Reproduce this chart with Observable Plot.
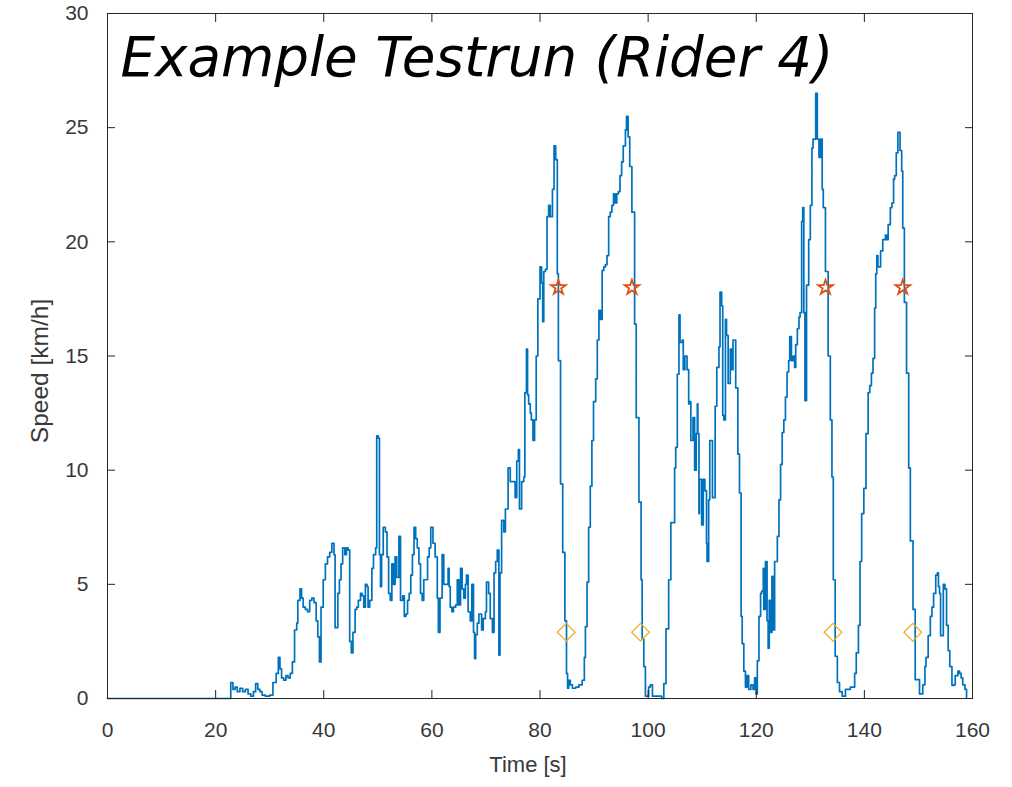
<!DOCTYPE html>
<html><head><meta charset="utf-8">
<script src="https://cdn.jsdelivr.net/npm/d3@7"></script>
<script src="https://cdn.jsdelivr.net/npm/@observablehq/plot@0.6"></script>
<style>body{margin:0;background:#fff} #chart{width:1012px;height:787px}</style>
</head><body><div id="chart"></div>
<script>
const time = [0,22.8,23.2,23.6,24.0,24.5,25.0,25.5,26.0,26.5,27.0,27.4,27.8,28.2,28.6,29.2,30.0,30.6,31.2,31.6,31.9,32.2,32.6,33.0,33.4,33.8,34.2,34.6,35.0,35.2,35.6,35.9,36.2,36.6,37.0,37.4,37.8,38.2,38.6,38.9,39.2,39.5,39.9,40.3,40.7,41.1,41.5,41.9,42.1,42.6,42.9,43.2,43.5,43.9,44.2,44.5,44.8,45.1,45.4,45.8,46.1,46.4,46.8,47.1,47.4,47.7,48.0,48.2,48.5,48.9,49.2,49.6,49.8,50.1,50.3,50.5,50.7,51.0,51.4,51.7,52.0,52.3,52.6,52.9,53.2,53.5,53.9,54.2,54.6,54.9,55.2,55.5,55.8,56.1,56.4,56.7,57.0,57.3,57.6,57.9,58.2,58.5,58.9,59.2,59.5,59.8,60.2,60.6,61.0,61.2,61.5,61.9,62.2,62.5,63.0,63.2,63.4,63.7,64.0,64.4,64.7,65.0,65.3,65.6,65.9,66.2,66.4,66.7,67.1,67.4,67.7,67.9,68.1,68.4,68.7,69.2,69.5,69.9,70.1,70.5,70.8,71.2,71.5,71.8,72.1,72.4,72.6,72.9,73.3,73.6,74.1,74.5,75.1,75.4,75.7,76.0,76.2,76.6,77.0,77.2,77.5,77.7,77.9,78.2,78.4,78.7,79.0,79.3,79.6,80.0,80.3,80.5,80.7,81.0,81.3,81.6,81.9,82.3,82.6,82.9,83.2,83.4,83.8,84.2,84.6,84.9,85.1,85.3,85.6,86.0,86.6,87.2,87.8,88.2,88.4,88.7,89.0,89.3,89.6,89.9,90.3,90.6,90.9,91.2,91.5,91.8,92.1,92.4,92.7,93.0,93.3,93.6,93.9,94.2,94.5,94.8,95.1,95.4,95.8,96.0,96.3,96.6,97.0,97.5,97.8,98.3,98.7,98.9,99.2,99.5,100.1,100.4,100.8,101.4,102.0,102.3,102.5,102.9,103.3,103.8,104.2,104.9,105.1,105.4,105.7,105.9,106.3,106.5,106.8,107.2,107.5,107.7,107.9,108.3,108.6,108.9,109.1,109.2,109.4,109.5,109.9,110.2,110.5,110.8,110.9,111.2,111.4,111.9,112.1,112.4,112.7,113.1,113.3,113.6,113.8,114.0,114.3,114.5,114.8,115.2,115.5,115.7,116.2,116.6,116.9,117.2,117.4,117.7,118.0,118.3,118.6,119.0,119.4,119.7,120.0,120.2,120.5,120.8,121.0,121.3,121.4,121.7,122.0,122.2,122.4,122.6,122.9,123.1,123.4,123.9,124.2,124.5,124.8,125.1,125.4,125.7,126.0,126.2,126.5,126.8,127.1,127.3,127.6,127.9,128.1,128.4,128.6,128.8,129.0,129.3,129.7,130.0,130.3,130.5,131.0,131.1,131.3,131.6,131.9,132.2,132.4,132.8,133.3,133.7,134.0,134.25,134.6,135.0,135.4,135.9,136.5,137.4,137.8,138.2,138.5,138.9,139.2,139.5,139.9,140.3,140.7,141.0,141.3,141.6,141.9,142.1,142.3,142.5,143.0,143.4,143.9,144.1,144.4,144.8,145.1,145.4,145.6,145.9,146.2,146.6,146.9,147.1,147.4,147.8,148.2,148.5,149.0,149.4,150.2,150.8,151.2,151.4,151.8,152.2,152.5,152.8,153.2,153.5,153.7,153.9,154.1,154.6,154.9,155.2,155.5,155.8,156.2,156.5,156.8,157.3,157.6,157.9,158.2,158.6,158.9];
const speed = [0,0.7,0.4,0.5,0.3,0.45,0.3,0.4,0.2,0.1,0.3,0.65,0.4,0.3,0.15,0.1,0.15,0.7,1.1,1.8,1.3,0.9,0.8,1.0,0.9,1.1,1.6,3.0,3.3,4.3,4.8,4.4,4.0,3.9,3.8,4.3,4.4,4.2,3.4,2.7,1.6,4.0,5.2,5.9,6.2,6.4,6.8,6.3,3.1,4.6,5.2,5.9,6.6,6.3,6.6,6.5,2.5,2.0,2.9,3.9,4.0,4.3,4.6,4.5,4.0,5.0,4.9,4.0,4.3,5.7,6.3,6.6,11.5,11.4,6.3,4.9,6.3,7.5,7.3,6.2,4.6,4.3,5.9,5.0,6.2,5.3,7.1,4.3,4.5,3.6,3.7,4.3,4.6,5.4,6.3,7.5,7.0,6.6,5.9,4.6,4.3,5.2,5.2,6.2,6.6,7.5,6.8,6.2,4.4,2.9,4.4,6.3,5.0,5.0,5.7,4.9,4.0,3.8,4.0,4.1,5.2,4.1,5.7,4.8,4.4,5.0,5.4,3.8,3.4,5.0,2.9,1.75,2.8,3.3,3.7,3.0,3.5,3.8,5.1,4.6,3.5,2.9,5.5,6.0,6.5,1.9,5.5,7.8,7.3,8.3,10.1,9.5,9.5,8.8,10.4,10.9,8.3,9.5,9.7,13.4,15.3,13.3,12.9,12.5,12.2,11.3,12.2,15.0,17.5,18.9,18.2,16.5,18.7,18.8,21.1,21.6,21.1,22.3,24.2,23.6,18.6,14.8,9.4,6.4,3.4,1.1,0.45,0.8,0.6,0.45,0.5,0.6,0.8,1.8,3.15,5.1,7.5,9.3,11.3,13.0,14.0,15.7,17.0,16.6,18.75,18.9,19.0,19.4,21.1,21.3,21.6,22.1,21.7,22.1,22.2,22.9,23.5,24.2,24.9,25.5,24.6,23.3,21.3,16.4,12.3,8.6,5.2,2.6,1.4,0.1,0.5,0.6,0.1,0.1,0.1,0.1,0.0,0.65,3.05,5.2,7.7,10.1,11.0,14.2,16.8,15.6,15.7,14.4,15.0,14.4,12.9,13.0,11.3,12.3,10.0,11.6,12.9,11.6,8.1,9.6,7.6,9.6,9.1,6.8,6.0,8.7,11.3,8.8,8.8,12.8,14.5,15.4,17.8,17.2,12.4,12.2,16.6,15.9,13.8,15.3,14.4,15.7,13.6,10.7,9.0,3.6,2.4,1.2,0.5,1.0,0.4,0.6,0.4,0.9,0.2,1.65,3.6,4.6,4.7,5.7,3.9,6.0,3.4,2.2,4.3,2.9,5.35,3.0,6.0,7.1,8.7,10.25,11.65,12.2,13.2,14.3,14.8,15.85,14.8,15.0,14.5,15.5,16.2,16.7,16.9,20.9,21.5,16.9,13.05,18.1,20.1,21.6,24.1,24.5,26.5,26.5,24.5,23.7,24.5,22.3,21.5,18.7,15.0,12.2,9.7,5.2,1.85,0.7,0.3,0.1,0.4,0.5,0.5,1.1,2.0,3.2,6.0,8.1,9.2,11.6,13.4,13.7,14.25,14.9,17.1,18.6,19.4,18.9,19.6,20.1,20.3,20.1,20.75,21.5,21.7,22.75,22.9,23.9,24.8,24.0,23.1,20.6,17.35,14.25,10.1,6.9,3.9,0.83,0.2,0.6,1.4,1.8,2.75,3.6,4.0,4.6,5.4,5.5,4.9,4.6,2.75,5.0,4.8,3.2,2.1,1.4,0.57,0.6,1.0,1.2,1.1,0.9,0.6,0.4,0.05,0];
const starTime = [83.4, 97.0, 132.8, 147.1];
const starSpeed = [18, 18, 18, 18];
const diamondTime = [84.85, 98.6, 134.2, 148.95];
const diamondSpeed = [2.9, 2.9, 2.9, 2.9];
const xTicks = [0, 20, 40, 60, 80, 100, 120, 140, 160];
const yTicks = [0, 5, 10, 15, 20, 25, 30];
const titleText = "Example Testrun (Rider 4)";
const xLabel = "Time [s]";
const yLabel = "Speed [km/h]";

const series = time.map((t, i) => ({t, v: speed[i]}));
const stars = starTime.map((t, i) => ({t, v: starSpeed[i]}));
const diamonds = diamondTime.map((t, i) => ({t, v: diamondSpeed[i]}));
const ink = "#262626";
const textInk = "#383838";

const chart = Plot.plot({
  width: 1012, height: 787,
  marginLeft: 107, marginRight: 40, marginTop: 13, marginBottom: 89,
  x: {domain: [0, 160]},
  y: {domain: [0, 30]},
  style: {fontFamily: "Liberation Sans", fontSize: "21px", color: textInk, background: "white"},
  marks: [
    Plot.line(series, {x: "t", y: "v", curve: "step-after", stroke: "#0072BD", strokeWidth: 1.7}),
    Plot.frame({stroke: ink, strokeWidth: 1}),
    Plot.dot(stars, {x: "t", y: "v", symbol: "star", r: 4.6, stroke: "#D95319", strokeWidth: 1.8, fill: "none"}),
    Plot.dot(diamonds, {x: "t", y: "v", symbol: "diamond2", r: 8, stroke: "#EDB120", strokeWidth: 1.3, fill: "none"}),
    Plot.axisX({anchor: "bottom", ticks: xTicks, tickSize: -8, tickPadding: 32, label: null, stroke: ink, fill: textInk}),
    Plot.axisX({anchor: "top", ticks: xTicks, tickSize: -8, tickFormat: () => "", label: null, stroke: ink}),
    Plot.axisY({anchor: "left", ticks: yTicks, tickSize: -8, tickPadding: 27, label: null, stroke: ink, fill: textInk}),
    Plot.axisY({anchor: "right", ticks: yTicks, tickSize: -8, tickFormat: () => "", label: null, stroke: ink}),
    Plot.text([xLabel], {text: d => d, frameAnchor: "bottom", dx: -12, dy: 58, lineAnchor: "top", fill: textInk, fontSize: 22}),
    Plot.text([yLabel], {text: d => d, frameAnchor: "left", textAnchor: "middle", dx: -67, dy: 15, rotate: -90, fill: textInk, fontSize: 24.5}),
    Plot.text([titleText], {text: d => d, frameAnchor: "top-left", dx: 13, dy: 24, lineAnchor: "top", textAnchor: "start", fill: "black", fontFamily: "DejaVu Sans", fontSize: 54.7, fontStyle: "italic"})
  ]
});
document.getElementById("chart").appendChild(chart);
</script>
</body></html>
